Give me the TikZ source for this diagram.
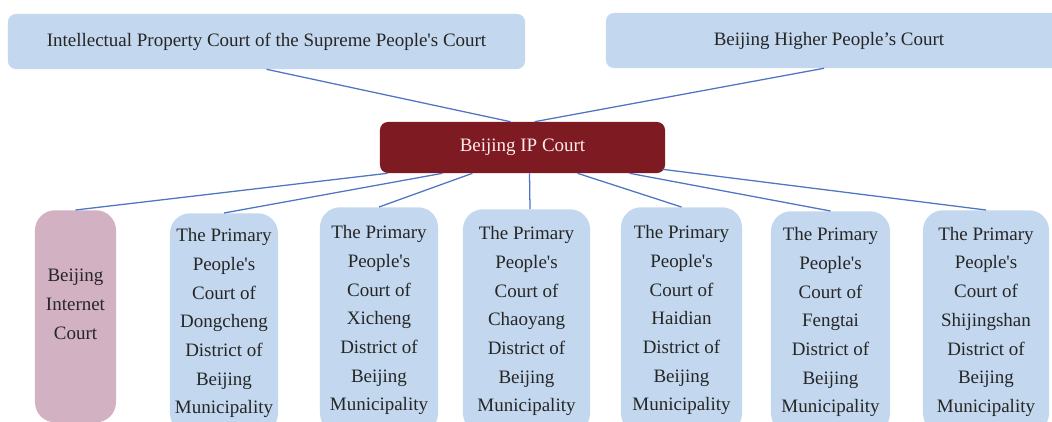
\documentclass[tikz,border=0pt]{standalone}
\usepackage{fontspec}
\setmainfont{Liberation Serif}
\usepackage{xcolor}
\usetikzlibrary{positioning,calc}
\definecolor{boxblue}{HTML}{C3D8EE}
\definecolor{ipred}{HTML}{7E1A22}
\definecolor{netpink}{HTML}{D2B2C2}
\definecolor{linkblue}{HTML}{4F74C4}
\newcommand{\sq}{\textquotesingle}

\begin{document}
\begin{tikzpicture}[x=0.025cm, y=-0.025cm,
    font=\fontsize{13.5}{20.4}\selectfont,
    court/.style={fill=boxblue, rounded corners=0.2cm, text=black!85, inner sep=0pt},
    lower/.style={court, anchor=north, rounded corners=0.5cm, align=center},
    link/.style={draw=linkblue, line width=0.9pt}]
    \useasboundingbox (0,0) rectangle (1052,421);
    \clip (0,0) rectangle (1052,421);

    % supervising courts
    \node[court, minimum width=12.925cm, minimum height=1.375cm] (ipsc) at (266.5,41.5) {Intellectual Property Court of the Supreme People\sq s Court};
    \node[court, minimum width=11.45cm, minimum height=1.375cm] (bhpc) at (835,40.5) {\hspace*{-0.3cm}Beijing Higher People’s Court};
    \node[court, fill=ipred, text=white!92!red, minimum width=7.125cm, minimum height=1.275cm] (ipc) at (522.5,147.5) {Beijing IP Court};

    % courts below
    \node[lower, fill=netpink, minimum width=2.025cm, minimum height=5.3cm] (net) at (75.5,210) {Beijing\\Internet\\Court\rule[-17pt]{0pt}{0pt}};
    \node[lower, minimum width=2.7cm, minimum height=5.5cm] (dong) at (224,213) {The Primary\\People\sq s\\Court of\\Dongcheng\\District of\\Beijing\\Municipality};
    \node[lower, minimum width=2.95cm, minimum height=5.65cm] (xi) at (379,207) {The Primary\\People\sq s\\Court of\\Xicheng\\District of\\Beijing\\Municipality};
    \node[lower, minimum width=3.175cm, minimum height=5.6cm] (chao) at (526.5,209) {The Primary\\People\sq s\\Court of\\Chaoyang\\District of\\Beijing\\Municipality};
    \node[lower, minimum width=3.025cm, minimum height=5.65cm] (hai) at (681.5,207) {The Primary\\People\sq s\\Court of\\Haidian\\District of\\Beijing\\Municipality};
    \node[lower, minimum width=2.975cm, minimum height=5.55cm] (feng) at (830.5,211) {The Primary\\People\sq s\\Court of\\Fengtai\\District of\\Beijing\\Municipality};
    \node[lower, minimum width=3.15cm, minimum height=5.575cm] (shi) at (986,210) {The Primary\\People\sq s\\Court of\\Shijingshan\\District of\\Beijing\\Municipality};

    \draw[link] (ipsc.south) -- ($(ipc.north)+(-12,0)$);
    \draw[link] ($(bhpc.south)+(-11,0)$) -- ($(ipc.north)+(12,0)$);

    \draw[link] ($(ipc.south)+(-135,0)$) -- (net.north);
    \draw[link] ($(ipc.south)+(-80,0)$) -- (dong.north);
    \draw[link] ($(ipc.south)+(-50,0)$) -- (xi.north);
    \draw[link] ($(ipc.south)+(7,0)$) -- ($(chao.north)+(3.5,0)$);
    \draw[link] ($(ipc.south)+(55,0)$) -- (hai.north);
    \draw[link] ($(ipc.south)+(107,0)$) -- (feng.north);
    \draw[link] ($(ipc.south east)+(-3,-4)$) -- (shi.north);
\end{tikzpicture}
\end{document}
